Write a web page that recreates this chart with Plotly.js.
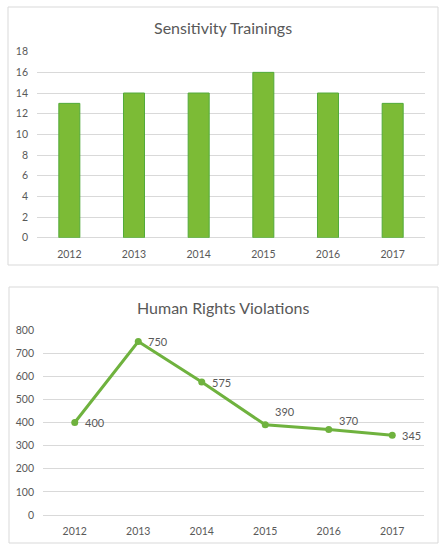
<!DOCTYPE html>
<html>
<head>
<meta charset="utf-8">
<script src="https://cdn.plot.ly/plotly-3.0.1.min.js"></script>
<style>
html,body{margin:0;padding:0;background:#fff;}
#chart{width:446px;height:550px;}
</style>
</head>
<body>
<div id="chart"></div>
<script>
// Data
const years = ["2012", "2013", "2014", "2015", "2016", "2017"];
const trainings = [13, 14, 14, 16, 14, 13];
const violations = [400, 750, 575, 390, 370, 345];
const violationLabels = ["400", "750", "575", "390", "370", "345"];
const titleTop = "Sensitivity Trainings";
const titleBottom = "Human Rights Violations";

const W = 446, H = 550;
const px = v => v / W;
const py = v => 1 - v / H;

const grey = "#595959";
const gridC = "#d9d9d9";
const fontFam = "Lato, 'Liberation Sans', Arial, sans-serif";

const barTrace = {
  type: "bar",
  x: years,
  y: trainings,
  xaxis: "x",
  yaxis: "y",
  marker: {color: "#7cbb36", line: {color: "#52ab3a", width: 1}},
  hoverinfo: "x+y"
};

const lineTrace = {
  type: "scatter",
  mode: "lines+markers",
  x: years,
  y: violations,
  xaxis: "x2",
  yaxis: "y2",
  line: {color: "#6fb23e", width: 3},
  marker: {color: "#6fb23e", size: 7},
  cliponaxis: false
};

// label offsets (styling only); x is the category index on the category axis
const labelYShift = [0, 0, 0, 13, 9, 0];
const labelAnnotations = years.map((yr, i) => ({
  xref: "x2", yref: "y2", x: years.indexOf(yr), y: violations[i],
  text: violationLabels[i], showarrow: false,
  xanchor: "left", yanchor: "middle", xshift: 8, yshift: labelYShift[i],
  font: {family: fontFam, size: 11, color: grey}
}));

const axisCommon = {
  showline: false,
  ticks: "",
  tickfont: {family: fontFam, size: 10.5, color: grey},
  fixedrange: true
};

const layout = {
  width: W,
  height: H,
  margin: {l: 0, r: 0, t: 0, b: 0},
  paper_bgcolor: "#fff",
  plot_bgcolor: "rgba(0,0,0,0)",
  showlegend: false,
  bargap: 0.675,
  xaxis: Object.assign({}, axisCommon, {
    domain: [px(37), px(425)],
    anchor: "y",
    type: "category",
    range: [-0.5, 5.5],
    showgrid: false,
    zeroline: false,
    ticklabelstandoff: 9
  }),
  yaxis: Object.assign({}, axisCommon, {
    domain: [py(237.7), py(51.7)],
    anchor: "x",
    range: [0, 18],
    dtick: 2,
    showgrid: true,
    gridcolor: gridC,
    gridwidth: 1,
    zeroline: true,
    zerolinecolor: gridC,
    zerolinewidth: 1,
    ticklabelstandoff: 8
  }),
  xaxis2: Object.assign({}, axisCommon, {
    domain: [px(43), px(424)],
    anchor: "y2",
    type: "category",
    range: [-0.5, 5.5],
    showgrid: false,
    zeroline: false,
    ticklabelstandoff: 8
  }),
  yaxis2: Object.assign({}, axisCommon, {
    domain: [py(515), py(330)],
    anchor: "x2",
    range: [0, 800],
    dtick: 100,
    showgrid: true,
    gridcolor: gridC,
    gridwidth: 1,
    zeroline: true,
    zerolinecolor: gridC,
    zerolinewidth: 1,
    ticklabelstandoff: 8
  }),
  shapes: [
    {type: "rect", xref: "paper", yref: "paper", x0: px(8), x1: px(438), y0: py(265), y1: py(7),
     line: {color: gridC, width: 1}, fillcolor: "rgba(0,0,0,0)", layer: "below"},
    {type: "rect", xref: "paper", yref: "paper", x0: px(9), x1: px(438), y0: py(543), y1: py(287),
     line: {color: gridC, width: 1}, fillcolor: "rgba(0,0,0,0)", layer: "below"}
  ],
  annotations: [
    {text: titleTop, xref: "paper", yref: "paper", x: px(223), y: py(28), xanchor: "center", yanchor: "middle",
     showarrow: false, font: {family: fontFam, size: 16, color: grey}},
    {text: titleBottom, xref: "paper", yref: "paper", x: px(223), y: py(307), xanchor: "center", yanchor: "middle",
     showarrow: false, font: {family: fontFam, size: 16, color: grey}}
  ].concat(labelAnnotations)
};

Plotly.newPlot("chart", [barTrace, lineTrace], layout, {displayModeBar: false, staticPlot: true});
</script>
</body>
</html>
